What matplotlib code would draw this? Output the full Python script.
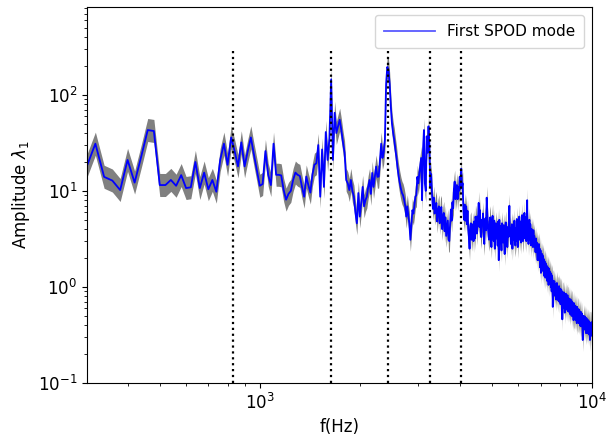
import numpy as np
import matplotlib
matplotlib.use("Agg")
import matplotlib.pyplot as plt

# frequency grid (Hz), uniform 20 Hz resolution
freq_start, freq_stop, freq_step = 300, 10000, 20

# amplitude of first SPOD mode
amp_low = [
    17.2, 31, 14, 12.8, 10.2, 21, 12.2, 23, 43, 42,
    11.5, 11.5, 13, 11.3, 14.6, 10.7, 10.9, 20, 10.7, 15.5,
    10.4, 13, 9.8, 21, 31, 18.7, 36, 26, 18, 32,
    18, 26, 36, 24, 16.5, 11.3, 11.8, 26, 14.7, 11.5,
    31, 14.7, 14.7, 14.5, 10.2, 8.1, 9.3, 10, 13, 15.5,
    14.7, 14.3, 11, 8.7, 14.1, 11.5, 9.6, 14.7, 18.7, 19.4,
    30, 8.7, 27, 11, 41, 21, 35, 145,
]
amp_mid = [
    21, 65, 40, 47, 55, 43, 32, 25, 13, 12,
    10.2, 13, 10, 8.7, 6, 4.6, 9.5, 5.4, 7.5, 11,
    6.9, 8, 8.7, 11, 13, 9.3, 15.4, 11, 14, 17.9,
    14, 14.1, 21, 31, 22, 25, 34, 130, 195, 180,
    130, 75, 50, 40, 34, 27, 22, 17, 14, 12,
    10.5, 9.5, 9, 8.1, 7, 5.4, 6.9, 5.5, 4.6, 3.1,
    4.5, 6.3, 5.8, 7, 8.7, 9, 14, 12, 15, 18,
    22, 8, 27, 43, 12, 10, 37, 25, 47, 30,
    11,
]
amp_high1 = [
    15, 9, 6.5, 8.5, 5.8, 6.8, 7.5, 4.8, 6.2, 6.9,
    4.6, 6.4, 6.8, 4.0, 5.2, 5.9, 3.8, 5.3, 3.4, 4.1,
    4.9, 3.1, 3.0, 4.6, 6.4, 4.9, 7.6, 6.6, 10.5, 12.5,
    8.2, 9.5, 11.5, 8.2, 11, 10, 14, 10.5, 17, 11,
    12, 6.4, 5.0, 7.2, 4.9, 6.9, 4.5, 6.2, 4.1, 3.3,
    2.5, 4.3, 4.6, 3.1, 3.7, 4.5, 3.0, 4.8, 3.2, 5.4,
    4.9,
]
amp_high2 = [
    3.6, 5.4, 4.9, 7.5, 4.2, 6.3, 3.8, 3.3, 5.0, 4.4,
    5.8, 3.5, 2.8, 4.6, 5.2, 3.9, 8.5, 6.0, 4.1, 3.4,
    3.1, 4.8, 5.3, 3.5, 2.6, 4.4, 5.5, 3.6, 3.0, 4.9,
    2.5, 3.9, 4.6, 3.2, 4.1, 2.7, 4.8, 1.9, 5.0, 2.9,
    4.3, 3.3, 2.4, 4.6, 3.8, 2.9, 4.4, 3.4, 2.2, 4.0,
    4.7, 3.0, 3.7, 2.6, 4.2, 3.3, 5.0, 7.0, 3.4, 4.1,
    2.8, 3.9, 4.5, 2.5, 3.5, 4.3, 3.1, 4.9, 3.0, 2.7,
    4.1, 3.0, 5.1, 3.6, 2.6, 4.4, 3.3, 5.4, 3.1, 3.8,
    4.8, 2.9, 3.9, 5.6, 3.4, 3.0, 4.7, 3.7, 5.9, 3.2,
    4.2, 5.3, 3.0, 3.8, 8.0, 3.4, 4.6, 2.8, 4.0, 5.0,
    3.1, 4.5, 3.6, 2.7, 4.0, 3.0, 3.7, 2.6, 3.9, 2.9,
    3.4, 2.6, 3.1, 2.3, 3.2, 2.3, 2.9, 2.4, 1.9, 2.7,
    2.4, 2.8, 1.9, 2.5, 1.6, 2.4, 1.4, 2.2, 1.55, 2.2,
    1.9, 2.1, 1.45, 1.95, 1.3, 1.85, 1.7, 1.25, 1.75, 1.4,
    1.3, 1.65, 1.15, 1.6, 1.45, 1.05, 1.55, 1.2, 1.45, 1.1,
    1.4, 1.0, 1.35, 0.9, 1.3, 1.2, 0.62, 1.15, 1.1, 0.85,
    1.15, 0.88, 1.08, 0.8, 1.02, 0.74, 0.98, 1.1, 0.78, 0.95,
    0.98, 0.72, 0.94, 1.02, 0.7, 0.9, 0.96, 0.66, 0.88, 0.94,
    0.68, 0.9, 0.46, 0.86, 0.83, 0.6, 0.88, 0.66, 0.82, 0.54,
    0.8, 0.62, 0.85, 0.6, 0.79, 0.58, 0.77, 0.82, 0.56, 0.76,
    0.76, 0.57, 0.74, 0.54, 0.75, 0.52, 0.72, 0.57, 0.73, 0.5,
    0.67, 0.7, 0.5, 0.66, 0.52, 0.45, 0.68, 0.5, 0.48, 0.64,
    0.47, 0.63, 0.45, 0.61, 0.48, 0.42, 0.62, 0.46, 0.44, 0.59,
    0.56, 0.42, 0.58, 0.43, 0.56, 0.4, 0.54, 0.39, 0.55, 0.42,
    0.39, 0.53, 0.41, 0.37, 0.28, 0.4, 0.38, 0.5, 0.36, 0.49,
    0.38, 0.49, 0.36, 0.48, 0.37, 0.33, 0.47, 0.36, 0.46, 0.34,
    0.45, 0.33, 0.45, 0.35, 0.44, 0.32, 0.43, 0.34, 0.28, 0.42,
    0.42, 0.32, 0.41, 0.43, 0.31, 0.4,
]

# confidence band factors
ci_lower, ci_upper = 0.76, 1.32

# marked frequencies (vertical dotted lines)
peak_freqs = [830, 1640, 2435, 3245, 4030]
vline_top = 300

freq = np.arange(freq_start, freq_stop + 1, freq_step)
amp = np.array(amp_low + amp_mid + amp_high1 + amp_high2)
n = min(len(freq), len(amp))
freq, amp = freq[:n], amp[:n]

fig = plt.figure(figsize=(6.06, 4.42), dpi=100)
ax = fig.add_axes([0.1436, 0.1335, 0.8333, 0.8505])

ax.fill_between(freq, amp * ci_lower, amp * ci_upper, color='#808080', linewidth=0)
ax.plot(freq, amp, color='blue', linewidth=1.3, label='First SPOD mode')
ax.vlines(peak_freqs, 0.1, vline_top, colors='k', linestyles='dotted', linewidth=1.6)

ax.set_xscale('log')
ax.set_yscale('log')
ax.set_xlim(302, 10000)
ax.set_ylim(0.1, 820)
ax.set_xlabel('f(Hz)', fontsize=12)
ax.set_ylabel(r'Amplitude $\lambda_1$', fontsize=12)
ax.tick_params(labelsize=12)
leg = ax.legend(loc='upper right', fontsize=11, handlelength=3.3, borderpad=0.6)
for h in leg.legend_handles:
    h.set_alpha(0.65)

fig.savefig('out.png', dpi=100)
